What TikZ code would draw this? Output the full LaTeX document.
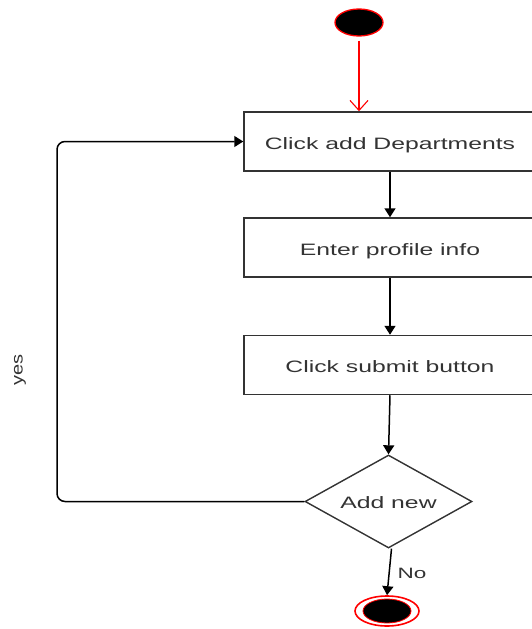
\documentclass[tikz,border=0pt]{standalone}
\usepackage{fontspec}
\setmainfont{Liberation Sans}
\usetikzlibrary{shapes.geometric,arrows.meta}
\definecolor{ink}{HTML}{333333}
% horizontally widened lettering
\newcommand{\wide}[1]{\scalebox{1.5}[1]{#1}}
\tikzset{
  actbox/.style={draw=ink, line width=1.5pt, minimum width=292pt, minimum height=59pt, inner sep=0pt,
                 text height=15.5pt, text depth=0pt,
                 text=ink, font=\fontsize{16.5}{18}\selectfont},
  decision/.style={diamond, draw=ink, line width=1.4pt, aspect=1.8, minimum width=167pt, minimum height=93pt,
                   inner sep=0pt, text height=13.5pt, text depth=0pt,
                   text=ink, font=\fontsize{16.5}{18}\selectfont},
  flow/.style={draw=black, line width=1.5pt, -{Triangle[length=9pt,width=11pt]}},
  startflow/.style={draw=red, line width=1.1pt, -{Straight Barb[length=10pt,width=18pt]}},
  initial/.style={ellipse, draw=red, line width=1.3pt, fill=black, minimum width=48pt, minimum height=27pt, inner sep=0pt},
  finalring/.style={ellipse, draw=red, line width=1.6pt, minimum width=64pt, minimum height=30pt, inner sep=0pt},
  finaldot/.style={ellipse, draw=red, line width=0.8pt, fill=black, minimum width=48pt, minimum height=24pt, inner sep=0pt},
  guard/.style={text=ink, inner sep=0pt},
}
\begin{document}
\begin{tikzpicture}[x=1pt,y=-1pt]
  \useasboundingbox (0,0) rectangle (532,629);
  \clip (0,0) rectangle (532,629);

  % start state
  \node[initial] (start) at (359,22.5) {};

  % activities
  \node[actbox] (b1) at (390,141.5) {\wide{Click add Departments}};
  \node[actbox] (b2) at (390,247.5) {\wide{Enter profile info}};
  \node[actbox] (b3) at (390,365)   {\wide{Click submit button}};

  % decision
  \node[decision] (dia) at (388.5,501.5) {\wide{Add new}};

  % final state
  \node[finalring] (endo) at (387,611) {};
  \node[finaldot]  (endi) at (387,611) {};

  % connectors
  \draw[startflow] ([yshift=-4pt]start.south) -- (b1.north -| start.south);
  \draw[flow] (b1.south) -- (b2.north);
  \draw[flow] (b2.south) -- (b3.north);
  \draw[flow] (b3.south) -- (dia.north);
  \draw[flow] ([xshift=3pt]dia.south) -- (endo.north);

  % "yes" loop back to the first activity
  \coordinate (loop) at (57,501.5);
  \draw[flow, rounded corners=8pt] (dia.west) -- (loop) |- (b1.west);

  % guard labels
  \node[guard, rotate=90, font=\fontsize{20}{22}\selectfont] (yes) at (20,370) {\scalebox{1}[0.8]{yes}};
  \node[guard, font=\fontsize{15}{17}\selectfont] (no) at (412,573) {\wide{No}};
\end{tikzpicture}
\end{document}
